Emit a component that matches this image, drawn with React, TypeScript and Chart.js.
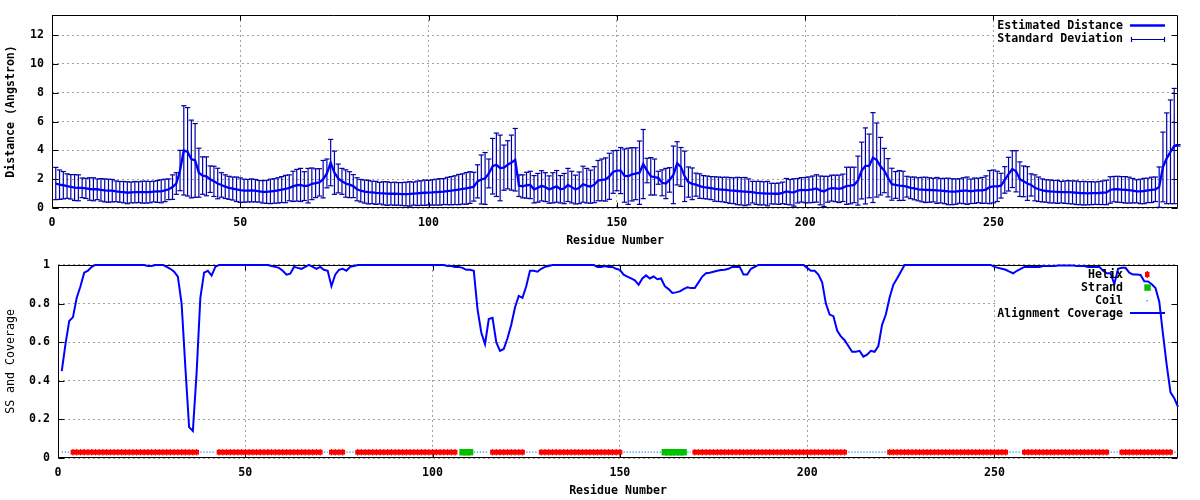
import React, { useEffect, useRef } from 'react';
import { Chart, registerables } from 'chart.js';

Chart.register(...registerables);

// ---------------- data ----------------
const RESIDUES: number[] = Array.from({ length: 299 }, (_, i) => i + 1);

const MEAN_DISTANCE = [
  1.70, 1.62, 1.58, 1.52, 1.47, 1.42, 1.40, 1.40, 1.36, 1.32,
  1.30, 1.30, 1.26, 1.22, 1.20, 1.20, 1.16, 1.12, 1.10, 1.06,
  1.08, 1.10, 1.10, 1.10, 1.10, 1.10, 1.14, 1.15, 1.16, 1.22,
  1.30, 1.45, 1.70, 2.60, 4.00, 3.90, 3.40, 3.30, 2.45, 2.25,
  2.20, 2.00, 1.85, 1.70, 1.60, 1.48, 1.40, 1.35, 1.30, 1.24,
  1.20, 1.20, 1.22, 1.20, 1.16, 1.12, 1.12, 1.15, 1.18, 1.22,
  1.28, 1.32, 1.40, 1.50, 1.58, 1.60, 1.52, 1.55, 1.68, 1.72,
  1.78, 2.00, 2.40, 3.15, 2.45, 2.05, 1.85, 1.70, 1.62, 1.52,
  1.30, 1.20, 1.14, 1.10, 1.08, 1.05, 1.03, 1.02, 1.00, 0.99,
  0.99, 0.98, 0.97, 0.97, 0.98, 1.00, 1.02, 1.04, 1.06, 1.07,
  1.08, 1.10, 1.12, 1.14, 1.18, 1.20, 1.24, 1.28, 1.32, 1.36,
  1.42, 1.48, 1.85, 1.98, 2.05, 2.40, 2.90, 3.00, 2.78, 2.80,
  3.00, 3.15, 3.35, 1.55, 1.50, 1.58, 1.60, 1.30, 1.40, 1.54,
  1.45, 1.28, 1.40, 1.50, 1.30, 1.35, 1.60, 1.45, 1.28, 1.40,
  1.65, 1.55, 1.48, 1.62, 1.90, 1.95, 1.98, 2.20, 2.50, 2.60,
  2.60, 2.25, 2.20, 2.34, 2.38, 2.45, 3.05, 2.60, 2.20, 2.15,
  2.10, 1.75, 1.70, 1.95, 2.30, 3.10, 2.85, 2.20, 1.80, 1.68,
  1.62, 1.52, 1.45, 1.42, 1.38, 1.32, 1.30, 1.28, 1.26, 1.22,
  1.20, 1.18, 1.16, 1.14, 1.12, 1.10, 1.05, 1.03, 1.02, 1.00,
  1.00, 0.99, 0.99, 1.05, 1.15, 1.10, 1.08, 1.20, 1.26, 1.24,
  1.26, 1.30, 1.36, 1.22, 1.15, 1.30, 1.38, 1.36, 1.33, 1.40,
  1.54, 1.56, 1.60, 1.90, 2.60, 2.92, 2.92, 3.50, 3.33, 2.90,
  2.60, 2.10, 1.65, 1.60, 1.56, 1.54, 1.48, 1.40, 1.36, 1.30,
  1.28, 1.26, 1.25, 1.24, 1.22, 1.20, 1.18, 1.15, 1.13, 1.14,
  1.18, 1.20, 1.20, 1.16, 1.20, 1.22, 1.22, 1.28, 1.45, 1.50,
  1.50, 1.55, 1.95, 2.35, 2.70, 2.55, 2.00, 1.85, 1.70, 1.60,
  1.40, 1.30, 1.22, 1.18, 1.15, 1.13, 1.12, 1.10, 1.10, 1.10,
  1.08, 1.06, 1.03, 1.03, 1.02, 1.03, 1.03, 1.04, 1.06, 1.08,
  1.25, 1.31, 1.30, 1.28, 1.26, 1.24, 1.20, 1.16, 1.15, 1.18,
  1.22, 1.26, 1.30, 1.45, 2.85, 3.45, 3.90, 4.30, 4.35,
];

const STD_DEV = [
  1.12, 1.02, 0.95, 0.85, 0.85, 0.90, 0.90, 0.68, 0.70, 0.78,
  0.80, 0.72, 0.78, 0.80, 0.80, 0.78, 0.72, 0.72, 0.74, 0.76,
  0.72, 0.74, 0.72, 0.76, 0.76, 0.74, 0.72, 0.76, 0.80, 0.78,
  0.72, 0.85, 0.75, 1.40, 3.10, 3.07, 2.70, 2.56, 1.70, 1.30,
  1.35, 0.92, 1.05, 1.06, 0.85, 0.82, 0.80, 0.80, 0.85, 0.85,
  0.80, 0.78, 0.80, 0.78, 0.75, 0.78, 0.80, 0.85, 0.85, 0.88,
  0.90, 0.95, 0.90, 1.05, 1.10, 1.15, 1.00, 1.20, 1.10, 1.00,
  0.95, 1.30, 1.00, 1.61, 1.50, 1.00, 0.90, 0.95, 0.90, 0.80,
  0.80, 0.78, 0.80, 0.82, 0.78, 0.80, 0.75, 0.80, 0.82, 0.78,
  0.80, 0.78, 0.80, 0.82, 0.85, 0.80, 0.85, 0.85, 0.88, 0.85,
  0.88, 0.90, 0.92, 0.90, 0.95, 0.98, 1.00, 1.05, 1.05, 1.10,
  1.10, 1.00, 1.15, 1.70, 1.80, 1.00, 1.93, 2.20, 2.28, 1.57,
  1.67, 1.91, 2.17, 0.75, 0.80, 0.90, 0.95, 0.95, 1.00, 1.05,
  1.00, 0.95, 1.05, 1.10, 0.95, 1.05, 1.15, 1.10, 1.00, 1.10,
  1.25, 1.20, 1.15, 1.25, 1.40, 1.45, 1.50, 1.60, 1.48, 1.40,
  1.60, 1.85, 1.95, 1.85, 1.80, 2.20, 2.40, 0.85, 1.30, 1.25,
  0.45, 0.90, 1.05, 0.85, 2.00, 1.50, 1.35, 1.75, 1.05, 1.10,
  0.80, 0.85, 0.80, 0.80, 0.80, 0.85, 0.85, 0.85, 0.88, 0.90,
  0.90, 0.95, 0.95, 0.98, 0.90, 0.75, 0.80, 0.82, 0.80, 0.85,
  0.72, 0.72, 0.74, 0.75, 0.90, 0.88, 0.95, 0.85, 0.85, 0.88,
  0.90, 0.92, 0.95, 1.00, 1.05, 0.90, 0.90, 0.92, 0.95, 0.95,
  1.29, 1.27, 1.23, 1.70, 1.97, 2.64, 2.21, 3.12, 2.57, 2.00,
  1.54, 1.33, 1.11, 0.93, 1.04, 1.01, 0.72, 0.75, 0.79, 0.80,
  0.85, 0.88, 0.85, 0.82, 0.90, 0.85, 0.88, 0.92, 0.90, 0.88,
  0.85, 0.90, 0.95, 0.85, 0.88, 0.85, 0.90, 0.95, 1.15, 1.14,
  1.05, 0.86, 0.92, 1.17, 1.28, 1.43, 1.20, 1.07, 1.17, 0.77,
  0.90, 0.85, 0.80, 0.78, 0.80, 0.78, 0.80, 0.75, 0.78, 0.80,
  0.80, 0.82, 0.80, 0.82, 0.80, 0.80, 0.78, 0.80, 0.82, 0.85,
  0.92, 0.88, 0.90, 0.90, 0.92, 0.90, 0.85, 0.80, 0.85, 0.88,
  0.85, 0.88, 0.85, 1.40, 2.42, 3.15, 3.60, 4.00, 0.05,
];

const COVERAGE = [
  0.45, 0.59, 0.71, 0.73, 0.83, 0.89, 0.96, 0.97, 0.99, 1.00,
  1.00, 1.00, 1.00, 1.00, 1.00, 1.00, 1.00, 1.00, 1.00, 1.00,
  1.00, 1.00, 1.00, 0.995, 0.995, 1.00, 1.00, 1.00, 0.99, 0.98,
  0.965, 0.94, 0.80, 0.47, 0.16, 0.14, 0.44, 0.83, 0.96, 0.97,
  0.945, 0.99, 1.00, 1.00, 1.00, 1.00, 1.00, 1.00, 1.00, 1.00,
  1.00, 1.00, 1.00, 1.00, 1.00, 1.00, 0.995, 0.99, 0.985, 0.97,
  0.95, 0.955, 0.99, 0.985, 0.98, 0.99, 1.00, 0.99, 0.98, 0.99,
  0.975, 0.97, 0.89, 0.95, 0.975, 0.98, 0.97, 0.99, 0.995, 1.00,
  1.00, 1.00, 1.00, 1.00, 1.00, 1.00, 1.00, 1.00, 1.00, 1.00,
  1.00, 1.00, 1.00, 1.00, 1.00, 1.00, 1.00, 1.00, 1.00, 1.00,
  1.00, 1.00, 1.00, 0.995, 0.995, 0.99, 0.99, 0.985, 0.975, 0.975,
  0.97, 0.77, 0.65, 0.59, 0.72, 0.726, 0.60, 0.555, 0.565, 0.62,
  0.69, 0.78, 0.84, 0.83, 0.89, 0.97, 0.97, 0.965, 0.98, 0.99,
  0.995, 1.00, 1.00, 1.00, 1.00, 1.00, 1.00, 1.00, 1.00, 1.00,
  1.00, 1.00, 1.00, 0.99, 0.99, 0.995, 0.99, 0.99, 0.98, 0.975,
  0.95, 0.94, 0.93, 0.92, 0.897, 0.93, 0.946, 0.93, 0.94, 0.926,
  0.93, 0.89, 0.875, 0.855, 0.858, 0.863, 0.875, 0.884, 0.88, 0.88,
  0.91, 0.94, 0.957, 0.96, 0.965, 0.97, 0.974, 0.975, 0.98, 0.99,
  0.99, 0.99, 0.95, 0.95, 0.98, 0.99, 1.00, 1.00, 1.00, 1.00,
  1.00, 1.00, 1.00, 1.00, 1.00, 1.00, 1.00, 1.00, 1.00, 0.985,
  0.97, 0.97, 0.95, 0.91, 0.80, 0.743, 0.735, 0.66, 0.63, 0.61,
  0.58, 0.55, 0.55, 0.555, 0.525, 0.535, 0.555, 0.55, 0.58, 0.69,
  0.743, 0.83, 0.897, 0.93, 0.965, 1.00, 1.00, 1.00, 1.00, 1.00,
  1.00, 1.00, 1.00, 1.00, 1.00, 1.00, 1.00, 1.00, 1.00, 1.00,
  1.00, 1.00, 1.00, 1.00, 1.00, 1.00, 1.00, 1.00, 1.00, 0.99,
  0.985, 0.98, 0.975, 0.965, 0.957, 0.97, 0.98, 0.99, 0.99, 0.99,
  0.99, 0.99, 0.995, 0.995, 0.995, 0.995, 0.997, 0.997, 0.997, 0.997,
  0.997, 0.995, 0.995, 0.995, 0.99, 0.99, 0.99, 0.99, 0.97, 0.957,
  0.957, 0.90, 0.98, 0.985, 0.985, 0.96, 0.95, 0.95, 0.948, 0.915,
  0.914, 0.90, 0.88, 0.81, 0.64, 0.48, 0.34, 0.31, 0.265,
];

const HELIX_RANGES: [number, number][] = [
  [4, 37], [43, 70], [73, 76], [80, 106], [116, 124],
  [129, 150], [170, 210], [222, 253], [258, 280], [284, 297],
];
const STRAND_RANGES: [number, number][] = [[108, 110], [162, 167]];
const SS_LEVEL = 0.03;

const X_RANGE = [0, 299];
const X_TICKS = [0, 50, 100, 150, 200, 250];
const TOP_Y_RANGE = [0, 13.4];
const TOP_Y_TICKS = [0, 2, 4, 6, 8, 10, 12];
const BOTTOM_Y_RANGE = [0, 1];
const BOTTOM_Y_TICKS = [0, 0.2, 0.4, 0.6, 0.8, 1];

const TOP_KEY = ['Estimated Distance', 'Standard Deviation'];
const BOTTOM_KEY = ['Helix', 'Strand', 'Coil', 'Alignment Coverage'];

// ---------------- style ----------------
const MONO = "'DejaVu Sans Mono', 'Liberation Mono', monospace";
const FS = 11.6;
const BOLD_FONT = { family: MONO, size: FS, weight: 'bold' as const };
const PLAIN_FONT = { family: MONO, size: FS, weight: 'normal' as const };
const GRID = '#a0a0a0';
const LINE_BLUE = '#0000ff';
const BAR_NAVY = '#0000a8';
const HELIX_RED = '#ff0000';
const STRAND_GREEN = '#00c000';
const COIL_BLUE = '#1e90ff';

const inRanges = (r: number, ranges: [number, number][]) =>
  ranges.some(([a, b]) => r >= a && r <= b);

function fixedTicks(values: number[]) {
  return (s: any) => { s.ticks = values.map((v) => ({ value: v })); };
}

function xScaleOpts() {
  return {
    type: 'linear',
    min: X_RANGE[0],
    max: X_RANGE[1],
    offset: false,
    afterBuildTicks: fixedTicks(X_TICKS),
    grid: { color: GRID, lineWidth: 1, drawTicks: false, offset: false },
    border: { display: false, dash: [2, 3] },
    ticks: {
      color: '#000', font: BOLD_FONT, padding: 8, maxRotation: 0, autoSkip: false,
      callback: (v: number) => String(v),
    },
    title: {
      display: true, text: 'Residue Number', color: '#000', font: BOLD_FONT,
      padding: { top: 0, bottom: 2.3 },
    },
    afterFit: (s: any) => { s.height = 42; },
  };
}

function yScaleOpts(range: number[], ticks: number[], title: string, titleFont: any, width: number) {
  return {
    type: 'linear',
    min: range[0],
    max: range[1],
    afterBuildTicks: fixedTicks(ticks),
    grid: { color: GRID, lineWidth: 1, drawTicks: false },
    border: { display: false, dash: [2, 3] },
    ticks: { color: '#000', font: BOLD_FONT, padding: 8, autoSkip: false, callback: (v: number) => String(v) },
    title: { display: true, text: title, color: '#000', font: titleFont, padding: { top: 4, bottom: 0 } },
    afterFit: (s: any) => { s.width = width; },
  };
}

// frame + inward tics + opaque key background
function framePlugin(keyLeft: number, keyBottom: number) {
  return {
    id: 'gnuFrame',
    beforeDatasetsDraw(chart: any) {
      const { ctx, chartArea } = chart;
      const L = Math.round(chartArea.left) + 0.5;
      const R = Math.round(chartArea.right) - 0.5;
      const T = Math.round(chartArea.top) + 0.5;
      const B = Math.round(chartArea.bottom) - 0.5;
      ctx.save();
      ctx.fillStyle = '#ffffff';
      ctx.fillRect(keyLeft, T + 0.5, R - keyLeft, keyBottom - T);
      ctx.strokeStyle = '#000';
      ctx.lineWidth = 1;
      ctx.setLineDash([]);
      ctx.beginPath();
      ctx.rect(L, T, R - L, B - T);
      const xs = chart.scales.x;
      xs.ticks.forEach((t: any) => {
        const px = Math.round(xs.getPixelForValue(t.value)) + 0.5;
        ctx.moveTo(px, B); ctx.lineTo(px, B - 5);
        ctx.moveTo(px, T); ctx.lineTo(px, T + 5);
      });
      const ys = chart.scales.y;
      ys.ticks.forEach((t: any) => {
        const py = Math.round(ys.getPixelForValue(t.value)) + 0.5;
        ctx.moveTo(L, py); ctx.lineTo(L + 6, py);
        ctx.moveTo(R, py); ctx.lineTo(R - 6, py);
      });
      ctx.stroke();
      ctx.restore();
    },
  };
}

function keyText(ctx: CanvasRenderingContext2D, text: string, y: number) {
  ctx.font = `bold ${FS}px ${MONO}`;
  ctx.fillStyle = '#000';
  ctx.textAlign = 'right';
  ctx.textBaseline = 'middle';
  ctx.fillText(text, 1123, y);
}

const topKeyPlugin = {
  id: 'topKey',
  afterDatasetsDraw(chart: any) {
    const { ctx } = chart;
    ctx.save();
    keyText(ctx, TOP_KEY[0], 26);
    ctx.strokeStyle = LINE_BLUE; ctx.lineWidth = 2.5;
    ctx.beginPath(); ctx.moveTo(1130, 25.5); ctx.lineTo(1165, 25.5); ctx.stroke();
    keyText(ctx, TOP_KEY[1], 39);
    ctx.strokeStyle = BAR_NAVY; ctx.lineWidth = 1.2;
    ctx.beginPath();
    ctx.moveTo(1131, 39.5); ctx.lineTo(1165, 39.5);
    ctx.moveTo(1131.5, 37); ctx.lineTo(1131.5, 42);
    ctx.moveTo(1164.5, 37); ctx.lineTo(1164.5, 42);
    ctx.stroke();
    ctx.restore();
  },
};

const bottomKeyPlugin = {
  id: 'bottomKey',
  afterDatasetsDraw(chart: any) {
    const { ctx } = chart;
    ctx.save();
    keyText(ctx, BOTTOM_KEY[0], 25);
    ctx.fillStyle = HELIX_RED;
    ctx.fillRect(1145, 22, 4.5, 5);
    ctx.fillRect(1146.5, 21, 1.5, 7);
    keyText(ctx, BOTTOM_KEY[1], 38);
    ctx.fillStyle = STRAND_GREEN;
    ctx.fillRect(1144.3, 34.3, 6.5, 6.5);
    keyText(ctx, BOTTOM_KEY[2], 51);
    ctx.fillStyle = COIL_BLUE;
    ctx.fillRect(1146.5, 50, 1.3, 1.3);
    keyText(ctx, BOTTOM_KEY[3], 64);
    ctx.strokeStyle = LINE_BLUE; ctx.lineWidth = 2;
    ctx.beginPath(); ctx.moveTo(1130, 63); ctx.lineTo(1165, 63); ctx.stroke();
    ctx.restore();
  },
};

function topConfig(): any {
  const meanPts = RESIDUES.map((r, i) => ({ x: r, y: MEAN_DISTANCE[i] }));
  const barPts = RESIDUES.map((r, i) => ({ x: r, y: [MEAN_DISTANCE[i] - STD_DEV[i], MEAN_DISTANCE[i] + STD_DEV[i]] }));
  const hiPts = RESIDUES.map((r, i) => ({ x: r, y: MEAN_DISTANCE[i] + STD_DEV[i] }));
  const loPts = RESIDUES.map((r, i) => ({ x: r, y: MEAN_DISTANCE[i] - STD_DEV[i] }));
  const cap = {
    type: 'line', showLine: false, pointStyle: 'line', pointRadius: 2.6,
    pointBorderColor: BAR_NAVY, borderColor: BAR_NAVY, pointBorderWidth: 1.2, clip: false, order: 1,
  };
  return {
    type: 'line',
    data: {
      datasets: [
        { type: 'line', label: TOP_KEY[0], data: meanPts, borderColor: LINE_BLUE, borderWidth: 2.3,
          pointRadius: 0, tension: 0, order: 0 },
        { ...cap, label: 'sd-hi', data: hiPts },
        { ...cap, label: 'sd-lo', data: loPts },
        { type: 'bar', label: TOP_KEY[1], data: barPts, backgroundColor: BAR_NAVY, borderWidth: 0,
          barThickness: 1.2, inflateAmount: 0, order: 2, clip: false },
      ],
    },
    options: {
      responsive: false,
      devicePixelRatio: 1,
      animation: false,
      events: [],
      layout: { padding: { left: 0, right: 22, top: 14, bottom: 0 } },
      plugins: { legend: { display: false }, tooltip: { enabled: false } },
      scales: {
        x: xScaleOpts(),
        y: yScaleOpts(TOP_Y_RANGE, TOP_Y_TICKS, 'Distance (Angstron)', BOLD_FONT, 52),
      },
    },
    plugins: [framePlugin(996, 46), topKeyPlugin],
  };
}

function bottomConfig(): any {
  const covPts = RESIDUES.map((r, i) => ({ x: r, y: COVERAGE[i] }));
  const helixPts = RESIDUES.filter((r) => inRanges(r, HELIX_RANGES)).map((r) => ({ x: r, y: SS_LEVEL }));
  const strandPts = RESIDUES.filter((r) => inRanges(r, STRAND_RANGES)).map((r) => ({ x: r, y: SS_LEVEL }));
  const coilPts = RESIDUES.map((r) => ({
    x: r,
    y: inRanges(r, HELIX_RANGES) || inRanges(r, STRAND_RANGES) ? null : SS_LEVEL,
  }));
  return {
    type: 'line',
    data: {
      datasets: [
        { type: 'line', label: BOTTOM_KEY[3], data: covPts, borderColor: LINE_BLUE, borderWidth: 2,
          pointRadius: 0, tension: 0, order: 0, clip: false },
        { type: 'line', label: BOTTOM_KEY[0], data: helixPts, showLine: false, pointStyle: 'rect',
          pointRadius: 3.4, pointBackgroundColor: HELIX_RED, pointBorderWidth: 0, order: 1 },
        { type: 'line', label: 'helix-tics', data: helixPts, showLine: false, pointStyle: 'line',
          pointRotation: 90, pointRadius: 3.2, pointBorderColor: HELIX_RED, borderColor: HELIX_RED,
          pointBorderWidth: 1.2, order: 1 },
        { type: 'line', label: BOTTOM_KEY[1], data: strandPts, showLine: false, pointStyle: 'rect',
          pointRadius: 4.6, pointBackgroundColor: STRAND_GREEN, pointBorderWidth: 0, order: 1 },
        { type: 'line', label: BOTTOM_KEY[2], data: coilPts, borderColor: COIL_BLUE, borderWidth: 1.3,
          borderDash: [1.3, 1.7], pointRadius: 0, spanGaps: false, order: 3 },
      ],
    },
    options: {
      responsive: false,
      devicePixelRatio: 1,
      animation: false,
      events: [],
      layout: { padding: { left: 0, right: 22, top: 13, bottom: 0 } },
      plugins: { legend: { display: false }, tooltip: { enabled: false } },
      scales: {
        x: xScaleOpts(),
        y: yScaleOpts(BOTTOM_Y_RANGE, BOTTOM_Y_TICKS, 'SS and Coverage', PLAIN_FONT, 58),
      },
    },
    plugins: [framePlugin(996, 71), bottomKeyPlugin],
  };
}

export default function App() {
  const topRef = useRef<HTMLCanvasElement>(null);
  const botRef = useRef<HTMLCanvasElement>(null);
  useEffect(() => {
    Chart.defaults.font.family = MONO;
    const c1 = new Chart(topRef.current as HTMLCanvasElement, topConfig());
    const c2 = new Chart(botRef.current as HTMLCanvasElement, bottomConfig());
    return () => { c1.destroy(); c2.destroy(); };
  }, []);
  return (
    <div style={{ position: 'absolute', left: 0, top: 0, width: 1200, height: 500, background: '#fff' }}>
      <canvas ref={topRef} width={1200} height={250} style={{ display: 'block', width: 1200, height: 250 }} />
      <canvas ref={botRef} width={1200} height={250} style={{ display: 'block', width: 1200, height: 250 }} />
    </div>
  );
}
